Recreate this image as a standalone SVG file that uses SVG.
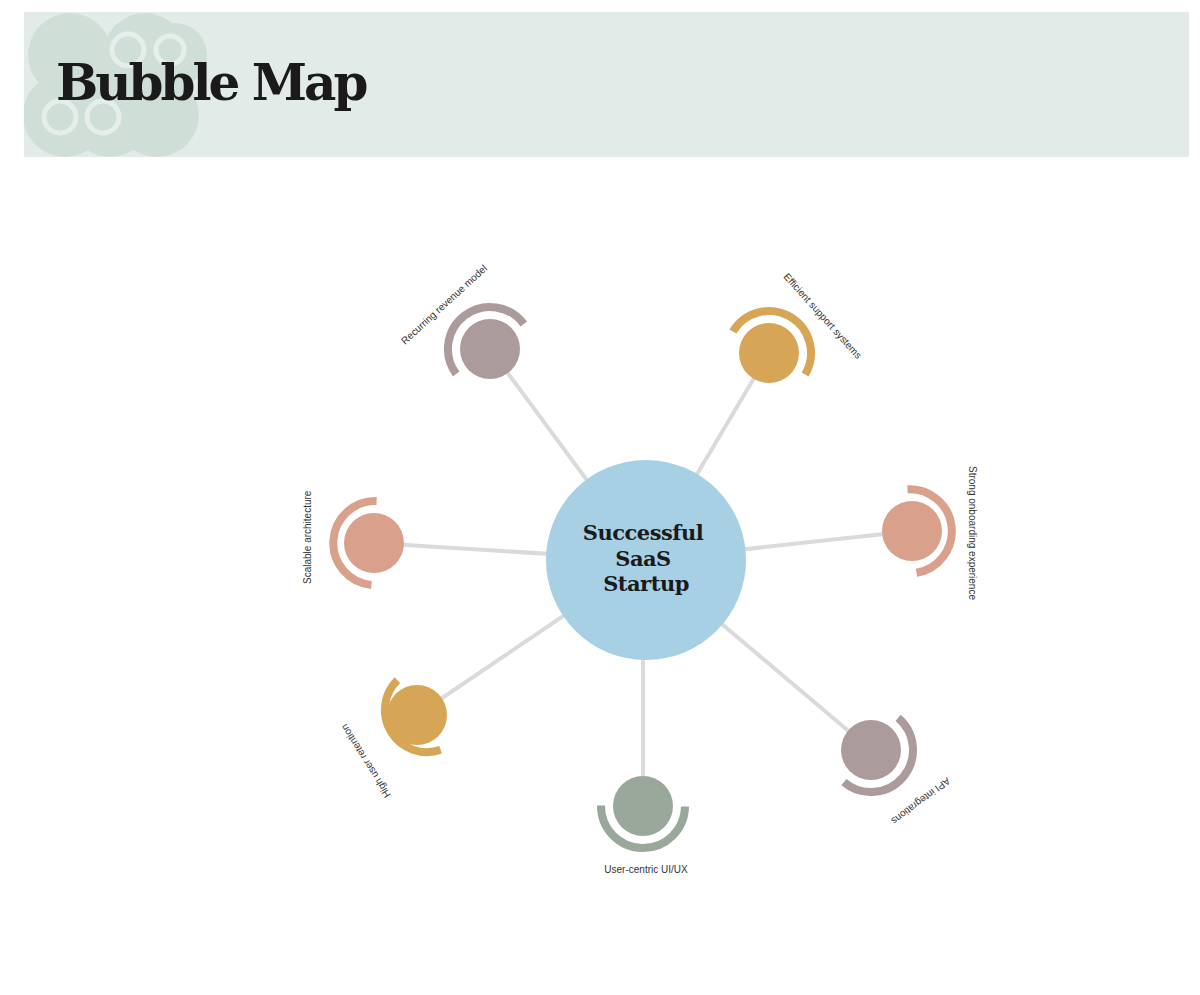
<svg xmlns="http://www.w3.org/2000/svg" width="1200" height="995" viewBox="0 0 1200 995">
<style>
.lbl{font-family:"Liberation Sans",Arial,sans-serif;font-size:10px;fill:#333}
.link{stroke:#dadada;stroke-width:4;fill:none}
.arc{fill:none;stroke-width:8}
.deco{fill:#cfdfd8}
</style>
<rect width="1200" height="995" fill="#fff"/>
<g id="header">
<rect x="24" y="12" width="1165" height="145" fill="#e3ebe8"/>
<clipPath id="hc"><rect x="24" y="12" width="1165" height="145"/></clipPath>
<g clip-path="url(#hc)">
<circle class="deco" cx="70" cy="55" r="42"/>
<circle class="deco" cx="145" cy="55" r="42"/>
<circle class="deco" cx="175" cy="55" r="32"/>
<circle class="deco" cx="65" cy="115" r="42"/>
<circle class="deco" cx="110" cy="115" r="42"/>
<circle class="deco" cx="157" cy="115" r="42"/>
<circle cx="60" cy="117" r="16" fill="none" stroke="#e6eeeb" stroke-width="5"/>
<circle cx="103" cy="117" r="16" fill="none" stroke="#e6eeeb" stroke-width="5"/>
<circle cx="128" cy="50" r="16" fill="none" stroke="#e6eeeb" stroke-width="5"/>
<circle cx="170" cy="50" r="14" fill="none" stroke="#e6eeeb" stroke-width="5"/>
</g>
<text x="56" y="100" font-family="'DejaVu Serif','Liberation Serif',serif" font-weight="bold" font-size="50" letter-spacing="-3" fill="#1a1a1a">Bubble Map</text>
</g>
<g id="connectors">
<line class="link" x1="646" y1="560" x2="490" y2="349"/>
<line class="link" x1="646" y1="560" x2="769" y2="353"/>
<line class="link" x1="646" y1="560" x2="912" y2="531"/>
<line class="link" x1="646" y1="560" x2="871" y2="750"/>
<line class="link" x1="643" y1="560" x2="643" y2="806"/>
<line class="link" x1="646" y1="560" x2="417" y2="715"/>
<line class="link" x1="646" y1="560" x2="374" y2="543"/>
</g>
<g id="center">
<circle cx="646" cy="560" r="100" fill="#a8d0e5"/>
<text text-anchor="middle" font-family="'DejaVu Serif','Liberation Serif',serif" font-weight="bold" font-size="21" fill="#1a1a1a" letter-spacing="-0.5"><tspan x="643" y="540">Successful</tspan><tspan x="643" y="566">SaaS</tspan><tspan x="646" y="591">Startup</tspan></text>
</g>
<g id="n-recurring">
<path class="arc" stroke="#ab9c9b" d="M523.8,324 A42,42 0 0 0 456.2,374"/>
<circle cx="490" cy="349" r="30" fill="#ab9c9b"/>
<text class="lbl" transform="translate(405,345) rotate(-42.5)">Recurring revenue model</text>
</g>
<g id="n-efficient">
<path class="arc" stroke="#d6a656" d="M805.1,374.5 A42,42 0 0 0 732.9,331.5"/>
<circle cx="769" cy="353" r="30" fill="#d6a656"/>
<text class="lbl" transform="translate(783,277) rotate(48)">Efficient support systems</text>
</g>
<g id="n-strong">
<path class="arc" stroke="#d9a18b" d="M916.5,572.7 A42,42 0 0 0 907.5,489.3"/>
<circle cx="912" cy="531" r="30" fill="#d9a18b"/>
<text class="lbl" transform="translate(969,466) rotate(90)">Strong onboarding experience</text>
</g>
<g id="n-api">
<path class="arc" stroke="#ab9c9b" d="M843.9,782.1 A42,42 0 0 0 898.1,717.9"/>
<circle cx="871" cy="750" r="30" fill="#ab9c9b"/>
<text class="lbl" transform="translate(947,777) rotate(143)">API integrations</text>
</g>
<g id="n-uiux">
<path class="arc" stroke="#9aa89c" d="M601,805.5 A42,42 0 0 0 685,806.5"/>
<circle cx="643" cy="806" r="30" fill="#9aa89c"/>
<text class="lbl" x="646" y="873" text-anchor="middle">User-centric UI/UX</text>
</g>
<g id="n-retention">
<path class="arc" stroke="#d6a656" d="M397.4,680.2 A42,42 0 0 0 440.6,749.8"/>
<circle cx="417" cy="715" r="30" fill="#d6a656"/>
<text class="lbl" transform="translate(391,795) rotate(238)">High user retention</text>
</g>
<g id="n-scalable">
<path class="arc" stroke="#d9a18b" d="M376.6,501.1 A42,42 0 0 0 371.4,584.9"/>
<circle cx="374" cy="543" r="30" fill="#d9a18b"/>
<text class="lbl" transform="translate(311,584) rotate(-90)">Scalable architecture</text>
</g>
</svg>
